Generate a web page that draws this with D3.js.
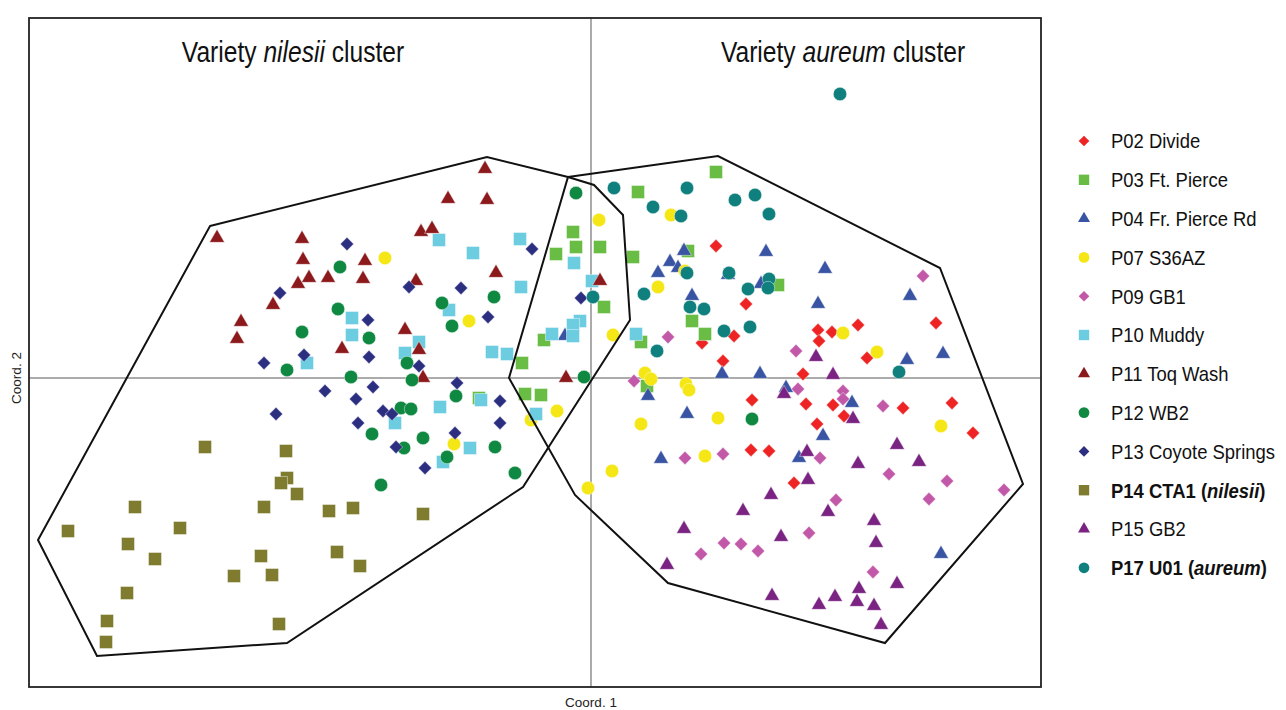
<!DOCTYPE html>
<html>
<head>
<meta charset="utf-8">
<script src="https://cdn.jsdelivr.net/npm/d3@7"></script>
<style>
  body { margin: 0; background: #fff; }
  svg { display: block; font-family: "Liberation Sans", Arial, Helvetica, sans-serif; }
</style>
</head>
<body>
<svg id="chart" width="1286" height="710"></svg>
<script>
// PCoA coordinates (Coord. 1, Coord. 2)
var populations = ["P02 Divide", "P03 Ft. Pierce", "P04 Fr. Pierce Rd", "P07 S36AZ", "P09 GB1",
  "P10 Muddy", "P11 Toq Wash", "P12 WB2", "P13 Coyote Springs", "P14 CTA1 (nilesii)",
  "P15 GB2", "P17 U01 (aureum)"];

var p02 = [[1.25,1.32],[1.55,0.74],[1.43,0.42],[1.11,0.35],[1.32,0.17],[2.27,0.48],[2.41,0.46],
  [2.28,0.37],[2.67,0.53],[3.45,0.55],[2.76,0.20],[2.12,0.04],[1.61,-0.22],[2.15,-0.26],
  [2.42,-0.27],[2.26,-0.46],[2.53,-0.38],[1.60,-0.72],[1.78,-0.73],[2.03,-1.05],[3.12,-0.30],
  [3.61,-0.25],[3.82,-0.55]];
var p03 = [[1.25,2.06],[0.47,1.86],[-0.18,1.46],[-0.15,1.31],[0.09,1.31],[-0.35,1.24],[0.42,1.21],
  [0.97,1.27],[1.87,0.93],[0.13,0.71],[1.01,0.57],[1.14,0.44],[0.50,0.36],[-0.47,0.38],
  [-0.69,0.15],[-0.66,-0.16],[-0.50,-0.17],[-1.12,-0.20],[0.56,-0.08]];
var p04 = [[0.93,1.27],[1.75,1.26],[0.79,1.16],[0.67,1.05],[0.87,1.10],[1.37,1.03],[2.34,1.09],
  [1.70,0.94],[1.01,0.82],[2.27,0.74],[3.19,0.82],[-0.26,0.42],[3.52,0.24],[3.16,0.18],
  [1.31,0.04],[1.69,0.04],[0.57,-0.18],[1.95,-0.10],[2.61,-0.25],[0.96,-0.36],[2.32,-0.58],
  [0.70,-0.81],[2.08,-0.80],[3.50,-1.76]];
var p07 = [[-2.06,1.20],[-1.22,0.57],[-1.37,-0.66],[0.08,1.58],[0.80,1.63],[0.94,1.07],[0.67,0.91],
  [0.22,0.43],[0.54,0.05],[0.60,-0.01],[0.95,-0.06],[0.98,-0.12],[-0.34,-0.33],[-0.60,-0.42],
  [-0.03,-1.10],[0.50,-0.46],[1.27,-0.40],[1.14,-0.78],[0.21,-0.93],[2.52,0.45],[2.86,0.26],
  [3.50,-0.48]];
var p09 = [[3.32,1.02],[0.77,0.41],[2.05,0.27],[0.43,-0.03],[2.07,-0.11],[2.52,-0.13],[2.52,-0.21],
  [2.92,-0.28],[0.94,-0.80],[1.32,-0.76],[2.29,-0.80],[2.45,-1.22],[1.33,-1.65],[1.50,-1.66],
  [1.10,-1.76],[1.67,-1.73],[2.18,-1.55],[2.98,-0.96],[3.56,-1.03],[4.13,-1.12],[3.38,-1.21],
  [2.82,-1.94]];
var p10 = [[-1.52,1.38],[-0.71,1.39],[-1.18,1.25],[-0.70,0.91],[-1.42,0.68],[-2.39,0.60],[-2.39,0.43],
  [-1.72,0.36],[-1.86,0.25],[-2.84,0.15],[-0.99,0.26],[-0.84,0.24],[-0.17,1.15],[0.01,0.97],
  [-0.11,0.57],[-0.18,0.53],[-0.18,0.42],[-0.39,0.44],[0.45,0.44],[-1.10,-0.22],[-1.51,-0.29],
  [-1.96,-0.45],[-1.21,-0.70],[-1.48,-0.84],[-0.55,-0.36]];
var p11 = [[-3.74,1.40],[-2.89,1.39],[-2.88,1.18],[-2.82,1.00],[-2.93,0.94],[-2.63,1.00],[-3.18,0.73],
  [-3.50,0.56],[-3.54,0.39],[-1.06,2.09],[-1.43,1.79],[-1.04,1.78],[-1.70,1.46],[-1.59,1.49],
  [-2.26,1.17],[-2.28,0.99],[-1.75,0.97],[-0.95,1.05],[-1.86,0.48],[-2.49,0.29],[-1.72,0.28],
  [-1.68,0.00],[-0.25,0.00],[0.09,0.97]];
var p12 = [[-2.51,1.11],[-2.89,0.46],[-3.04,0.08],[-2.53,0.69],[-2.22,0.40],[-2.40,0.01],[-1.84,0.15],
  [-1.79,-0.02],[-1.49,0.75],[-1.39,0.52],[-0.97,0.81],[-1.35,-0.18],[-1.90,-0.30],[-1.80,-0.31],
  [-2.19,-0.56],[-1.68,-0.60],[-1.87,-0.70],[-1.44,-0.79],[-0.96,-0.69],[-0.76,-0.95],[-2.10,-1.07],
  [-0.15,1.85],[-0.07,0.01],[1.61,-0.41]];
var p13 = [[-3.11,0.85],[-3.27,0.15],[-2.87,0.23],[-2.66,-0.13],[-3.15,-0.36],[-2.44,1.34],[-1.82,0.91],
  [-1.30,0.90],[-2.23,0.58],[-1.03,0.61],[-2.22,0.21],[-1.72,0.12],[-0.59,1.29],[-0.10,0.80],
  [-1.34,-0.05],[-2.18,-0.09],[-2.35,-0.21],[-0.91,-0.23],[-2.08,-0.33],[-1.99,-0.36],[-2.33,-0.45],
  [-0.91,-0.45],[-1.36,-0.55],[-1.95,-0.69],[-1.66,-0.90]];
var p14 = [[-3.86,-0.69],[-3.05,-0.73],[-3.04,-1.00],[-3.10,-1.05],[-2.94,-1.16],[-2.62,-1.33],
  [-2.38,-1.30],[-1.68,-1.36],[-4.56,-1.29],[-3.27,-1.29],[-5.23,-1.53],[-4.11,-1.50],[-4.63,-1.66],
  [-4.36,-1.81],[-3.30,-1.78],[-3.57,-1.98],[-3.19,-1.97],[-4.64,-2.15],[-4.84,-2.43],[-3.12,-2.46],
  [-4.85,-2.64],[-2.54,-1.74],[-2.31,-1.88]];
var p15 = [[2.25,0.21],[2.42,0.03],[1.93,-0.16],[2.62,-0.41],[2.16,-0.74],[2.17,-1.02],[1.80,-1.17],
  [1.52,-1.33],[2.37,-1.34],[0.93,-1.51],[1.90,-1.59],[0.76,-1.87],[1.81,-2.18],[2.28,-2.27],
  [2.44,-2.19],[3.06,-0.67],[2.67,-0.86],[3.28,-0.84],[2.83,-1.43],[2.85,-1.65],[3.06,-2.06],
  [2.68,-2.11],[2.66,-2.24],[2.83,-2.28],[2.90,-2.47]];
var p17 = [[2.49,2.84],[0.23,1.90],[0.96,1.90],[1.44,1.78],[1.64,1.83],[0.62,1.71],[0.90,1.62],
  [1.78,1.64],[0.96,1.05],[1.38,1.05],[1.78,0.99],[1.57,0.89],[1.77,0.90],[0.53,0.84],[0.02,0.81],
  [0.99,0.71],[1.13,0.69],[1.59,0.51],[1.33,0.47],[0.66,0.27],[3.08,0.06]];

// hand drawn cluster outlines
var hullNilesii = [[-3.81,1.52],[-1.04,2.21],[-0.23,2.01],[0.03,1.93],[0.32,1.63],[0.39,0.58],
  [-0.68,-1.09],[-3.04,-2.65],[-4.94,-2.78],[-5.53,-1.62]];
var hullAureum = [[-0.23,2.01],[1.27,2.22],[3.49,1.10],[4.32,-1.06],[2.94,-2.65],[0.77,-2.05],
  [-0.16,-1.17],[-0.82,0.00]];

var clusterTitles = ["Variety nilesii cluster", "Variety aureum cluster"];
var clusterTitleX = [-2.98, 2.52];
var xDomain = [-5.62, 4.50];
var yDomain = [-3.09, 3.60];
var axisTitles = ["Coord. 1", "Coord. 2"];

var series = [p02, p03, p04, p07, p09, p10, p11, p12, p13, p14, p15, p17];

var colors = ["#ee2424", "#69bd45", "#3a54a4", "#f5e616", "#c158a8", "#6ccde0",
  "#8c1a1c", "#0f8942", "#2c2e80", "#7f7c30", "#7a2382", "#10807e"];
var shapes = ["diamond", "square", "triangle", "circle", "diamond", "square",
  "triangle", "circle", "diamond", "square", "triangle", "circle"];
var boldRows = [9, 11];

var svg = d3.select("#chart");
var frame = {left: 29, top: 18, right: 1041, bottom: 687};

var x = d3.scaleLinear().domain(xDomain).range([frame.left, frame.right]);
var y = d3.scaleLinear().domain(yDomain).range([frame.bottom, frame.top]);

var symbolPath = function(shape, scale) {
  if (shape == "circle") return d3.symbol(d3.symbolCircle, Math.PI * 6.7 * 6.7 * scale * scale)();
  if (shape == "square") return d3.symbol(d3.symbolSquare, 13 * 13 * scale * scale)();
  if (shape == "triangle") return d3.symbol(d3.symbolTriangle, Math.sqrt(3) / 4 * 15 * 15 * scale * scale)();
  // diamond is a square turned 45 degrees
  return d3.symbol(d3.symbolSquare, 88 * scale * scale)();
};

// zero lines
svg.append("line")
  .attr("x1", x(0)).attr("x2", x(0))
  .attr("y1", frame.top).attr("y2", frame.bottom)
  .attr("stroke", "#8f8f8f").attr("stroke-width", 1.5);
svg.append("line")
  .attr("x1", frame.left).attr("x2", frame.right)
  .attr("y1", y(0)).attr("y2", y(0))
  .attr("stroke", "#8f8f8f").attr("stroke-width", 1.5);

// points, in legend order so later populations sit on top
series.forEach(function(pts, i) {
  svg.append("g")
    .selectAll("path")
    .data(pts)
    .enter()
    .append("path")
    .attr("d", symbolPath(shapes[i], 1))
    .attr("transform", function(d) {
      var t = "translate(" + x(d[0]) + "," + y(d[1]) + ")";
      return shapes[i] == "diamond" ? t + " rotate(45)" : t;
    })
    .attr("fill", colors[i])
    .attr("stroke", "#fff")
    .attr("stroke-opacity", 0.7)
    .attr("stroke-width", 0.6);
});

// cluster outlines
var line = d3.line()
  .x(function(d) { return x(d[0]); })
  .y(function(d) { return y(d[1]); })
  .curve(d3.curveLinearClosed);
[hullNilesii, hullAureum].forEach(function(h) {
  svg.append("path")
    .attr("d", line(h))
    .attr("fill", "none")
    .attr("stroke", "#111")
    .attr("stroke-width", 2)
    .attr("stroke-linejoin", "miter");
});

// frame
svg.append("rect")
  .attr("x", frame.left).attr("y", frame.top)
  .attr("width", frame.right - frame.left)
  .attr("height", frame.bottom - frame.top)
  .attr("fill", "none")
  .attr("stroke", "#222")
  .attr("stroke-width", 1.8);

// cluster titles, the middle word in italics
clusterTitles.forEach(function(t, i) {
  var words = t.split(" ");
  var txt = svg.append("text")
    .attr("transform", "translate(" + x(clusterTitleX[i]) + ",62) scale(0.82,1)")
    .attr("text-anchor", "middle")
    .attr("font-size", 30)
    .attr("fill", "#111");
  txt.append("tspan").text(words[0] + " ");
  txt.append("tspan").attr("font-style", "italic").text(words[1]);
  txt.append("tspan").text(" " + words[2]);
});

// axis titles
svg.append("text")
  .attr("x", x(0)).attr("y", 707)
  .attr("text-anchor", "middle")
  .attr("font-size", 13.5)
  .attr("fill", "#222")
  .text(axisTitles[0]);
svg.append("text")
  .attr("transform", "translate(21," + y(0) + ") rotate(-90)")
  .attr("text-anchor", "middle")
  .attr("font-size", 13.5)
  .attr("fill", "#222")
  .text(axisTitles[1]);

// legend
var legend = svg.append("g");
populations.forEach(function(name, i) {
  var ly = 141 + i * 38.8;
  legend.append("path")
    .attr("d", symbolPath(shapes[i], 0.8))
    .attr("transform", "translate(1084," + ly + ")" + (shapes[i] == "diamond" ? " rotate(45)" : ""))
    .attr("fill", colors[i]);
  var txt = legend.append("text")
    .attr("transform", "translate(1111," + ly + ") scale(0.9,1)")
    .attr("dy", "0.36em")
    .attr("font-size", 20.5)
    .attr("fill", "#111")
    .attr("font-weight", boldRows.indexOf(i) >= 0 ? "bold" : "normal");
  var m = name.match(/^(.*\()(\w+)(\))$/);
  if (m) {
    txt.append("tspan").text(m[1]);
    txt.append("tspan").attr("font-style", "italic").text(m[2]);
    txt.append("tspan").text(m[3]);
  } else {
    txt.text(name);
  }
});
</script>
</body>
</html>
